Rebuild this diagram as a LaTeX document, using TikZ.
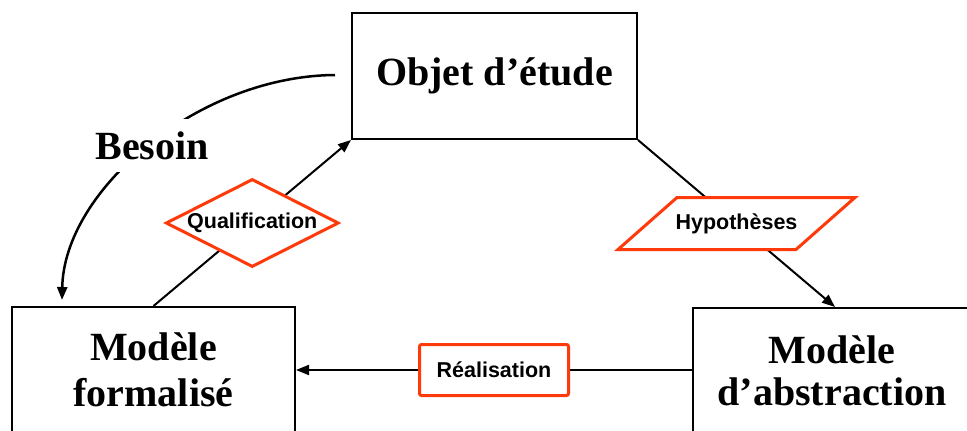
\documentclass[tikz,border=0pt]{standalone}
\usepackage{fontspec}
\setmainfont{Liberation Serif}
\setsansfont{Liberation Sans}
\usetikzlibrary{arrows.meta,shapes.geometric,calc}
\definecolor{labred}{RGB}{255,58,10}
\begin{document}
\begin{tikzpicture}[x=1pt,y=-1pt,
  box/.style={draw,line width=2pt,minimum width=#1,minimum height=126pt,
    inner sep=0pt,align=center,font=\bfseries\fontsize{40}{46}\selectfont},
  conn/.style={line width=2pt},
  arr/.style={-{Triangle[length=13pt,width=10pt]}},
  lab/.style={font=\sffamily\bfseries\fontsize{21.5}{24}\selectfont,text=black},
  redline/.style={draw=labred,line width=3pt,fill=white},
  qualbox/.style={lab,redline,shape=diamond,aspect=2,inner sep=0pt,
    minimum width=173pt,minimum height=88pt},
  realbox/.style={lab,redline,rounded corners=2pt,inner sep=0pt,
    minimum width=149pt,minimum height=51pt},
  needlabel/.style={font=\bfseries\fontsize{40}{46}\selectfont,fill=white,
    text height=27pt,text depth=0pt,inner xsep=8pt,inner ysep=13pt}]
\clip (0,0) rectangle (967,431);
\fill[white] (0,0) rectangle (967,431);

% the three models
\node[box=285pt] (obj) at (494.5,76) {Objet d’étude};
\node[box=283pt] (lbox) at (153.5,370) {Modèle\\formalisé};
\node[box=278pt,font=\bfseries\fontsize{40}{42}\selectfont] (rbox) at (832,371) {Modèle\\d’abstraction};

% qualification: formal model back to the object of study
\draw[conn,arr] (lbox.north) -- node[midway,qualbox] (q) {Qualification} (obj.south west);

% hypotheses: object of study to abstraction model
\coordinate (hend) at ([xshift=3pt]rbox.north);
\draw[conn,arr] (obj.south east) -- coordinate[midway] (hm) (hend);
\draw[redline] ($(hm)+(-118.5,26)$) -- ($(hm)+(-59.5,-26)$)
  -- ($(hm)+(118.5,-26)$) -- ($(hm)+(59.5,26)$) -- cycle;
\node[lab] (h) at (hm) {Hypothèses};

% realisation: abstraction model to formal model
\draw[conn,arr] (rbox.west |- lbox.east) -- node[midway,realbox] (r) {Réalisation} (lbox.east);

% need: curved arrow from the object of study down to the formal model
\coordinate (b0) at (335,75);
\coordinate (b1) at (62,300);
\draw[line width=2.5pt,arr] (b0) .. controls (198,76) and (64,190) .. (b1);
\node[needlabel] (bes) at (152,145.5) {Besoin};
\end{tikzpicture}
\end{document}
